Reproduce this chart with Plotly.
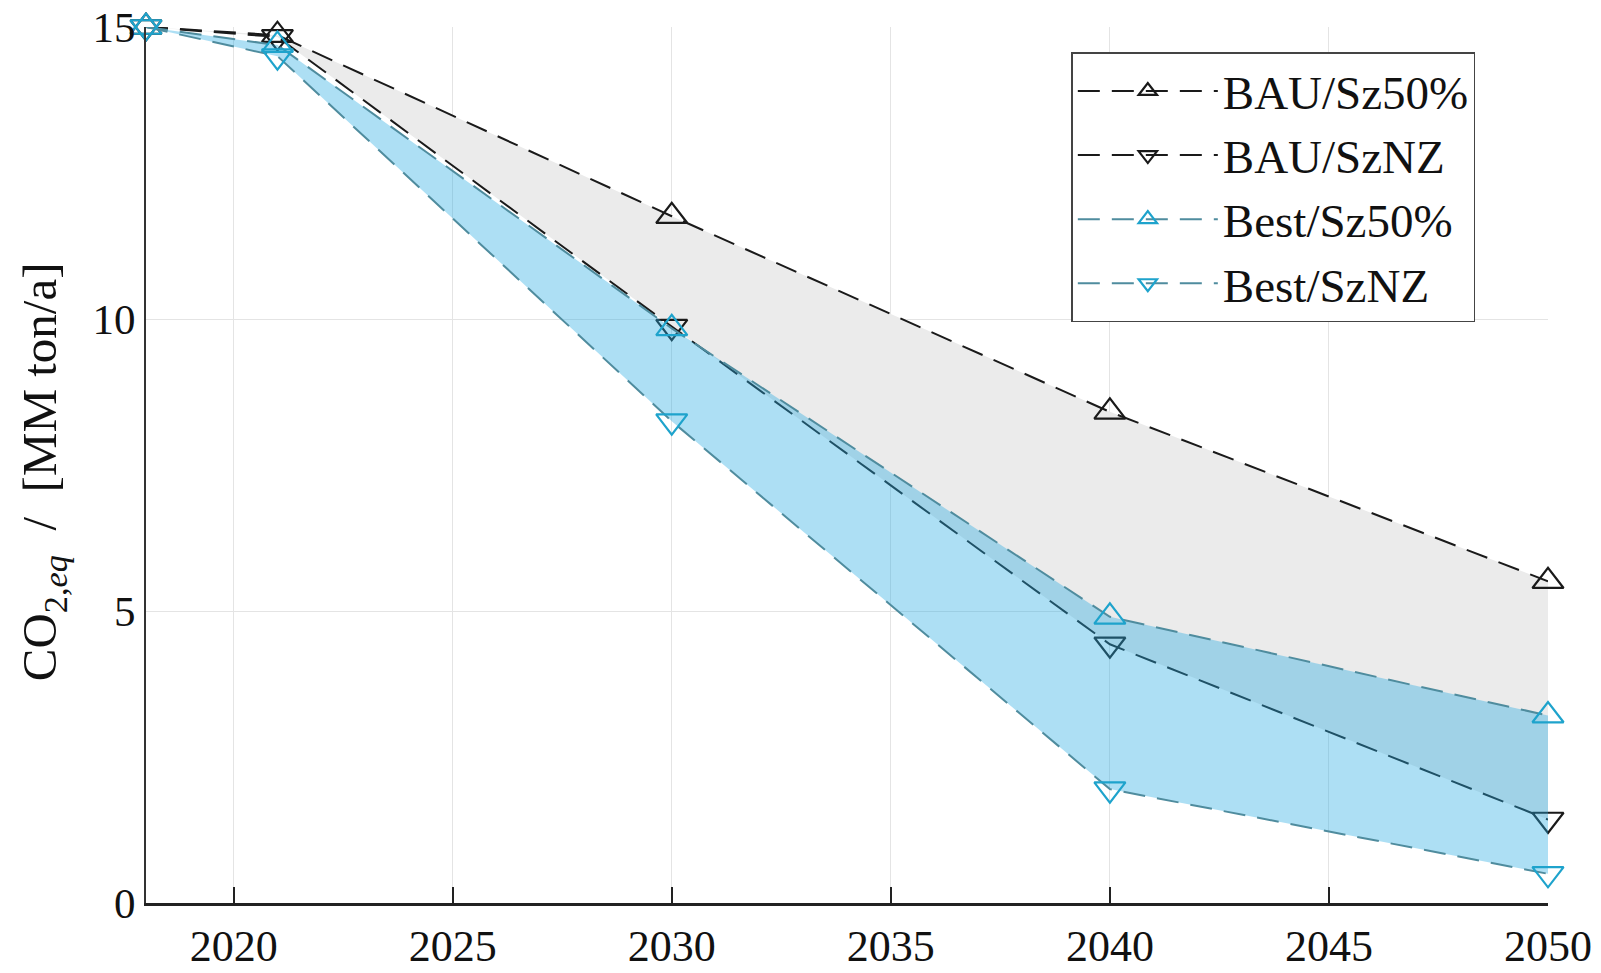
import plotly.graph_objects as go

years = [2018, 2021, 2030, 2040, 2050]
bau_sz50 = [15.0, 14.86, 11.76, 8.41, 5.51]
bau_sznz = [15.0, 14.83, 9.87, 4.43, 1.43]
best_sz50 = [15.0, 14.69, 9.84, 4.90, 3.21]
best_sznz = [15.0, 14.50, 8.25, 1.95, 0.50]

x_ticks = [2020, 2025, 2030, 2035, 2040, 2045, 2050]
y_ticks = [0, 5, 10, 15]

FONT = "Liberation Serif"
BLACK = "#1a1a1a"
BLUE_MK = "#1ea3cc"
BLUE_LN = "#4f8c9e"

fig = go.Figure()

# gray band between BAU scenarios
fig.add_trace(go.Scatter(
    x=years + years[::-1], y=bau_sz50 + bau_sznz[::-1],
    fill="toself", fillcolor="#ebebeb", line=dict(width=0),
    mode="lines", showlegend=False, hoverinfo="skip"))

def add_series(name, y, lcolor, mcolor, symbol):
    fig.add_trace(go.Scatter(
        x=years, y=y, name=name, mode="lines+markers",
        line=dict(color=lcolor, width=2, dash="22px,12px"),
        marker=dict(symbol=symbol, size=27, color=mcolor,
                    line=dict(color=mcolor, width=2.2)),
        cliponaxis=False))

add_series("BAU/Sz50%", bau_sz50, BLACK, BLACK, "triangle-up-open")
add_series("BAU/SzNZ", bau_sznz, BLACK, BLACK, "triangle-down-open")

# blue band between Best scenarios (semi-transparent)
fig.add_trace(go.Scatter(
    x=years + years[::-1], y=best_sz50 + best_sznz[::-1],
    fill="toself", fillcolor="rgba(40,170,225,0.38)", line=dict(width=0),
    mode="lines", showlegend=False, hoverinfo="skip"))

add_series("Best/Sz50%", best_sz50, BLUE_LN, BLUE_MK, "triangle-up-open")
add_series("Best/SzNZ", best_sznz, BLUE_LN, BLUE_MK, "triangle-down-open")

fig.update_layout(
    width=1593, height=965,
    margin=dict(l=138, r=53, t=19, b=70, autoexpand=False),
    paper_bgcolor="white", plot_bgcolor="white",
    font=dict(family=FONT, size=42, color="#111111"),
    legend=dict(
        x=0.66, y=0.971, xanchor="left", yanchor="top",
        bgcolor="white", bordercolor="#444444", borderwidth=1.5,
        font=dict(family=FONT, size=47, color="#111111"),
        itemwidth=140, tracegroupgap=0),
    annotations=[dict(
        text="CO<sub>2,<i>eq</i></sub>&nbsp; / &nbsp;[MM ton/a]",
        textangle=-90, xref="paper", yref="paper",
        x=-0.074, y=0.492, xanchor="center", yanchor="middle",
        showarrow=False, font=dict(family=FONT, size=49, color="#111111"))],
)

fig.update_xaxes(
    range=[2018, 2050], tickvals=x_ticks, ticktext=[str(t) for t in x_ticks],
    showgrid=True, gridcolor="#e4e4e4", gridwidth=1,
    showline=True, linecolor="#222222", linewidth=3,
    ticks="inside", ticklen=16, tickcolor="#222222", tickwidth=1.5,
    tickfont=dict(family=FONT, size=44), ticklabelstandoff=2,
    ticklabeloverflow="allow", zeroline=False, automargin=False)

fig.update_yaxes(
    range=[0, 15], tickvals=y_ticks, ticktext=[str(t) for t in y_ticks],
    showgrid=True, gridcolor="#e4e4e4", gridwidth=1,
    showline=True, linecolor="#333333", linewidth=2,
    ticks="", tickfont=dict(family=FONT, size=43),
    ticklabeloverflow="allow", zeroline=False, automargin=False)

fig.write_html("out.html")
